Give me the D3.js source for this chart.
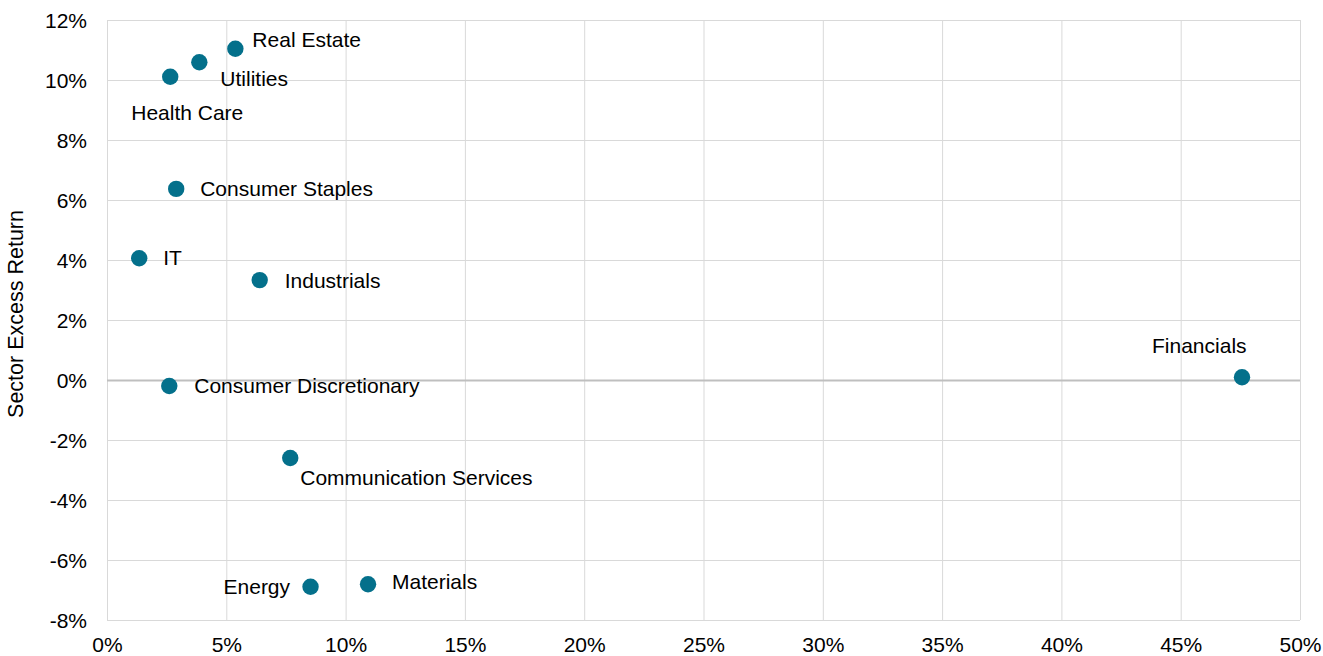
<!DOCTYPE html>
<html>
<head>
<meta charset="utf-8">
<script src="https://cdn.jsdelivr.net/npm/d3@7"></script>
<style>
  html, body { margin: 0; padding: 0; background: #fff; }
  svg { display: block; font-family: "Liberation Sans", Arial, sans-serif; }
</style>
</head>
<body>
<svg id="chart" width="1323" height="656"></svg>
<script>
// Sector weight (x, %) vs sector excess return (y, %)
const sectors = ["Real Estate", "Utilities", "Health Care", "Consumer Staples", "IT",
  "Industrials", "Consumer Discretionary", "Communication Services", "Energy",
  "Materials", "Financials"];
const weights = [5.38, 3.87, 2.65, 2.9, 1.35, 6.4, 2.61, 7.68, 8.53, 10.94, 47.57];
const excessReturns = [11.04, 10.59, 10.11, 6.37, 4.06, 3.33, -0.2, -2.6, -6.89, -6.81, 0.09];

// Label placement relative to each dot (pixels)
const labelDx = [17, 21, -39, 24, 24, 25, 25, 10, -87, 24, -90];
const labelDy = [-2, 24, 43, 7, 7, 8, 7, 27, 7, 5, -24];

const xTicks = [0, 5, 10, 15, 20, 25, 30, 35, 40, 45, 50];
const yTicks = [-8, -6, -4, -2, 0, 2, 4, 6, 8, 10, 12];

const margin = { top: 20, right: 23, bottom: 36, left: 107 };
const width = 1323, height = 656;
const svg = d3.select("#chart");

const x = d3.scaleLinear().domain([0, 50]).range([margin.left, width - margin.right]);
const y = d3.scaleLinear().domain([-8, 12]).range([height - margin.bottom, margin.top]);

const fontSize = 21;

// Gridlines
const grid = svg.append("g");
grid.selectAll("line.v").data(xTicks).join("line")
  .attr("x1", d => x(d) + 0.5).attr("x2", d => x(d) + 0.5)
  .attr("y1", y(12)).attr("y2", y(-8))
  .attr("stroke", "#d9d9d9").attr("stroke-width", 1);
grid.selectAll("line.h").data(yTicks).join("line")
  .attr("x1", x(0)).attr("x2", x(50))
  .attr("y1", d => y(d) + 0.5).attr("y2", d => y(d) + 0.5)
  .attr("stroke", d => d === 0 ? "#bfbfbf" : "#d9d9d9")
  .attr("stroke-width", d => d === 0 ? 2 : 1);

// Axes (labels only)
const xAxis = d3.axisBottom(x).tickValues(xTicks).tickFormat(d => d + "%").tickSize(0).tickPadding(0);
const yAxis = d3.axisLeft(y).tickValues(yTicks).tickFormat(d => d + "%").tickSize(0).tickPadding(0);

const gx = svg.append("g").attr("transform", `translate(0,${y(-8)})`).call(xAxis);
gx.select(".domain").remove();
gx.selectAll("text").attr("font-size", fontSize).attr("fill", "#000")
  .attr("font-family", "Liberation Sans, Arial, sans-serif")
  .attr("dy", null).attr("y", 32);

const gy = svg.append("g").attr("transform", `translate(${x(0) - 20},0)`).call(yAxis);
gy.select(".domain").remove();
gy.selectAll("text").attr("font-size", fontSize).attr("fill", "#000")
  .attr("font-family", "Liberation Sans, Arial, sans-serif")
  .attr("dy", "0.35em");

// Axis title
svg.append("text")
  .attr("transform", `translate(23,${(y(12) + y(-8)) / 2 - 6}) rotate(-90)`)
  .attr("text-anchor", "middle")
  .attr("font-size", 21.5)
  .attr("fill", "#000")
  .text("Sector Excess Return");

// Points
const data = sectors.map((s, i) => ({ name: s, w: weights[i], r: excessReturns[i], dx: labelDx[i], dy: labelDy[i] }));

svg.append("g").selectAll("circle").data(data).join("circle")
  .attr("cx", d => x(d.w)).attr("cy", d => y(d.r)).attr("r", 8.2)
  .attr("fill", "#04708b");

svg.append("g").selectAll("text").data(data).join("text")
  .attr("x", d => x(d.w) + d.dx).attr("y", d => y(d.r) + d.dy)
  .attr("font-size", fontSize).attr("fill", "#000")
  .text(d => d.name);
</script>
</body>
</html>
